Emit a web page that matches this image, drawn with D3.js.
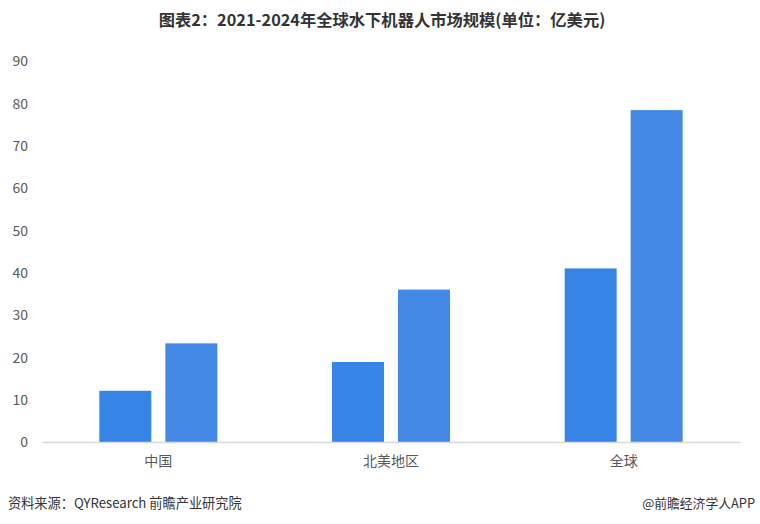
<!DOCTYPE html>
<html>
<head>
<meta charset="utf-8">
<script src="https://cdn.jsdelivr.net/npm/d3@7"></script>
<style>
  html, body { margin: 0; padding: 0; background: #fff; }
  svg { display: block; }
</style>
</head>
<body>
<svg id="chart" width="760" height="524"></svg>
<script>
const categories = ["中国", "北美地区", "全球"];
const series2021 = [12.1, 18.9, 41.0];
const series2024 = [23.3, 36.0, 78.4];
const seriesNames = ["2021", "2024"];
const seriesColors = ["#3584e6", "#4489e4"];
const yTicks = [0, 10, 20, 30, 40, 50, 60, 70, 80, 90];
const titleText = "图表2：2021-2024年全球水下机器人市场规模(单位：亿美元)";
const sourceText = "资料来源：QYResearch 前瞻产业研究院";
const brandText = "@前瞻经济学人APP";

(function () {
const svg = d3.select("#chart");
const font = "'Noto Sans CJK SC', 'Noto Sans', sans-serif";
const pLeft = 42, pRight = 740, pTop = 61, pBottom = 442;

const x = d3.scaleBand().domain(categories).range([pLeft, pRight]).padding(0);
const y = d3.scaleLinear().domain([0, 90]).range([pBottom, pTop]);
const inner = d3.scaleBand().domain([0, 1]).range([0, 118]).paddingInner(14 / 66);

// title
svg.append("text")
  .attr("x", 382).attr("y", 26)
  .attr("text-anchor", "middle")
  .attr("font-family", font)
  .attr("font-weight", "bold")
  .attr("font-size", 16.3)
  .attr("fill", "#333")
  .text(titleText);

// y axis
const yAxis = d3.axisLeft(y).tickValues(yTicks).tickSize(0).tickPadding(0);
const yg = svg.append("g").attr("transform", `translate(28,0)`).call(yAxis);
yg.select(".domain").remove();
yg.selectAll("text")
  .attr("font-family", font)
  .attr("font-size", 14)
  .attr("fill", "#595959")
  .attr("dy", "0.35em");

// bars
const data = categories.map((c, i) => ({ cat: c, vals: [series2021[i], series2024[i]] }));
const groups = svg.append("g").selectAll("g")
  .data(data).join("g")
  .attr("transform", d => `translate(${x(d.cat) + x.bandwidth() / 2 - 59},0)`);
groups.selectAll("rect")
  .data(d => d.vals.map((v, k) => ({ v, k })))
  .join("rect")
  .attr("x", d => inner(d.k))
  .attr("width", inner.bandwidth())
  .attr("y", d => y(d.v))
  .attr("height", d => y(0) - y(d.v))
  .attr("fill", d => seriesColors[d.k]);

// x axis
const xAxis = d3.axisBottom(x).tickSize(0).tickPadding(14);
const xg = svg.append("g").attr("transform", `translate(0,${pBottom})`).call(xAxis);
xg.select(".domain").attr("stroke", "#d9d9d9").attr("stroke-width", 1.5);
xg.selectAll("text")
  .attr("font-family", font)
  .attr("font-size", 14)
  .attr("fill", "#595959");

// footer
svg.append("text")
  .attr("x", 8).attr("y", 508)
  .attr("font-family", font)
  .attr("font-size", 13.2)
  .attr("fill", "#333")
  .text(sourceText);
svg.append("text")
  .attr("x", 755).attr("y", 508)
  .attr("text-anchor", "end")
  .attr("font-family", font)
  .attr("font-size", 12.8)
  .attr("fill", "#333")
  .text(brandText);
})();
</script>
</body>
</html>
